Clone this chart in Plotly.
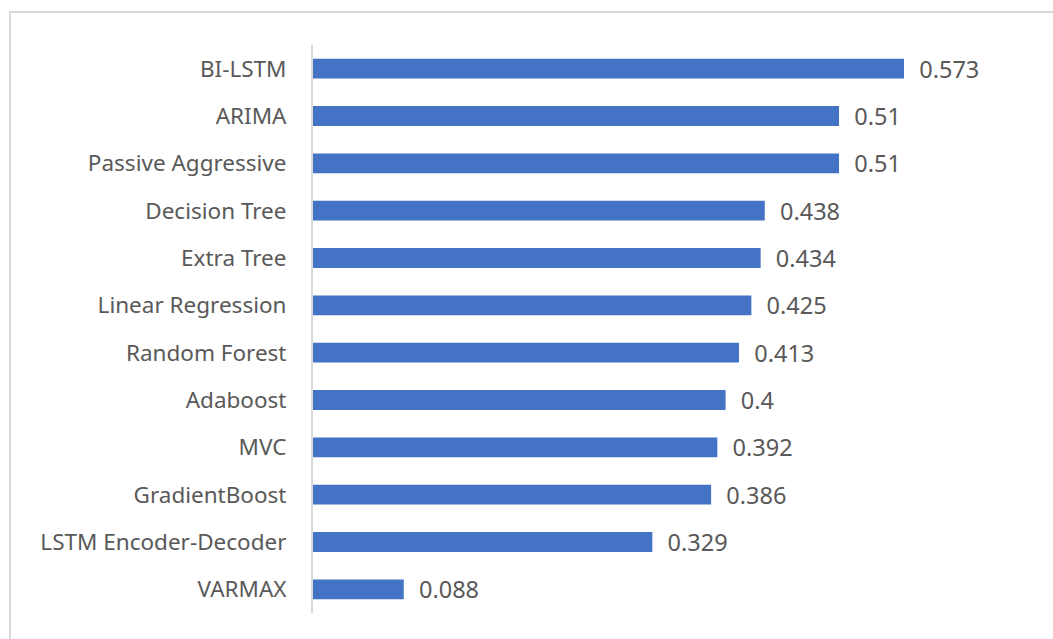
import plotly.graph_objects as go

categories = ["BI-LSTM", "ARIMA", "Passive Aggressive", "Decision Tree", "Extra Tree",
              "Linear Regression", "Random Forest", "Adaboost", "MVC", "GradientBoost",
              "LSTM Encoder-Decoder", "VARMAX"]
values = [0.573, 0.51, 0.51, 0.438, 0.434, 0.425, 0.413, 0.4, 0.392, 0.386, 0.329, 0.088]
value_labels = ["0.573", "0.51", "0.51", "0.438", "0.434", "0.425", "0.413", "0.4",
                "0.392", "0.386", "0.329", "0.088"]

W, H = 1053, 639
L, R, T, B = 313, 18, 45, 26
pw, ph = W - L - R, H - T - B
FS = 22.5
VFS = 23.5

fig = go.Figure(go.Bar(
    y=categories[::-1], x=values[::-1], orientation="h",
    marker=dict(color="#4472C4", line=dict(width=0)),
    text=value_labels[::-1], texttemplate="  %{text}", textposition="outside",
    constraintext="none",
    textfont=dict(color="#595959", size=VFS, family="Noto Sans"),
    cliponaxis=False,
))

fig.update_layout(
    width=W, height=H, margin=dict(l=L, r=R, t=T, b=B),
    paper_bgcolor="white", plot_bgcolor="white",
    bargap=0.58, showlegend=False,
    font=dict(family="Noto Sans", color="#595959", size=FS),
    xaxis=dict(range=[0, 0.7], visible=False, showgrid=False, zeroline=False),
    yaxis=dict(showline=True, linecolor="#D9D9D9", linewidth=2, ticks="",
               showgrid=False, ticklabelstandoff=20,
               tickfont=dict(size=FS, color="#595959", family="Noto Sans")),
    shapes=[dict(type="rect", xref="paper", yref="paper",
                 x0=(10 - L) / pw, x1=(1100 - L) / pw,
                 y0=(H - B - 700) / ph, y1=(H - B - 12) / ph,
                 line=dict(color="#D9D9D9", width=2), fillcolor="rgba(0,0,0,0)", layer="below")],
)

fig.write_html("out.html")
